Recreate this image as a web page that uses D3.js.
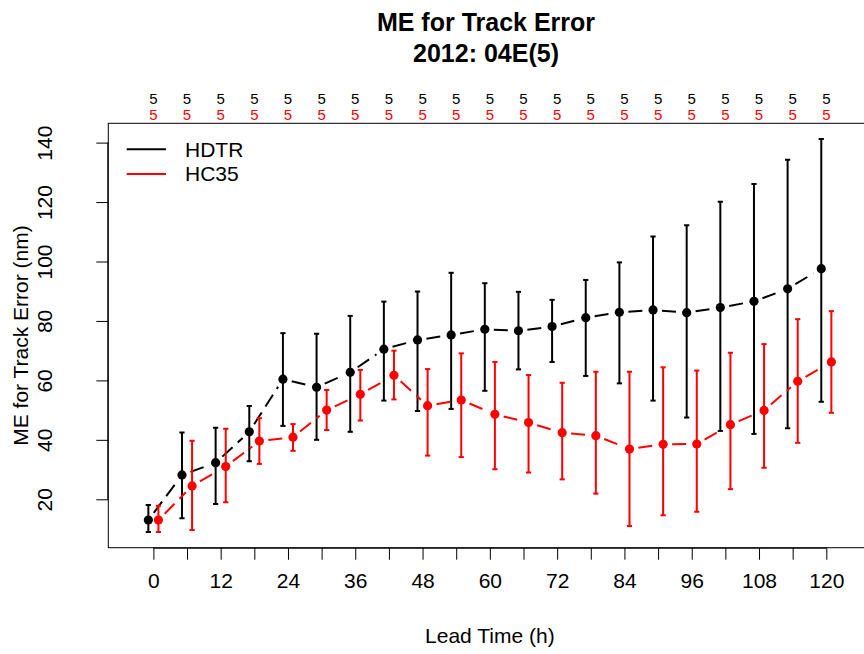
<!DOCTYPE html>
<html>
<head>
<meta charset="utf-8">
<script src="https://cdn.jsdelivr.net/npm/d3@7"></script>
<style>
  html, body { margin: 0; padding: 0; background: #fff; }
  svg { display: block; font-family: "Liberation Sans", Arial, Helvetica, sans-serif; }
</style>
</head>
<body>
<svg id="chart" width="864" height="654"></svg>
<script>
// Lead times (h) and mean track error with error-bar limits for each model
const leadTimes = [0, 6, 12, 18, 24, 30, 36, 42, 48, 54, 60, 66, 72, 78, 84, 90, 96, 102, 108, 114, 120];

const hdtrMean = [13.0, 28.2, 32.3, 42.7, 60.4, 57.7, 62.7, 70.5, 73.6, 75.3, 77.2, 76.7, 78.1, 81.1, 82.9, 83.7, 82.8, 84.5, 86.6, 90.8, 97.6];
const hdtrLow  = [9.0, 13.6, 18.4, 32.8, 44.7, 40.0, 42.7, 53.2, 49.7, 50.4, 56.5, 63.7, 66.2, 61.5, 59.0, 53.2, 47.5, 43.0, 42.0, 43.9, 52.8];
const hdtrHigh = [18.1, 42.5, 44.1, 51.4, 75.9, 75.7, 81.7, 86.5, 89.9, 96.2, 92.7, 89.8, 87.1, 93.8, 99.7, 108.4, 112.2, 120.1, 126.1, 134.2, 141.2];

const hc35Mean = [13.0, 24.5, 31.0, 39.6, 40.9, 50.0, 55.3, 61.7, 51.5, 53.4, 48.6, 45.8, 42.4, 41.4, 36.9, 38.5, 38.6, 45.1, 49.9, 59.7, 66.2];
const hc35Low  = [9.0, 9.7, 19.0, 31.9, 36.3, 43.3, 46.5, 53.6, 34.7, 34.2, 30.1, 29.0, 26.7, 21.9, 11.0, 14.6, 15.8, 23.4, 30.6, 39.0, 49.1];
const hc35High = [17.8, 39.7, 43.7, 47.3, 45.3, 56.8, 63.5, 70.0, 63.8, 69.1, 66.2, 61.8, 59.2, 62.9, 62.9, 64.4, 63.3, 69.3, 72.2, 80.6, 83.3];

// Number of cases per lead time
const hdtrCount = [5, 5, 5, 5, 5, 5, 5, 5, 5, 5, 5, 5, 5, 5, 5, 5, 5, 5, 5, 5, 5];
const hc35Count = [5, 5, 5, 5, 5, 5, 5, 5, 5, 5, 5, 5, 5, 5, 5, 5, 5, 5, 5, 5, 5];

const xTicks = d3.range(0, 121, 6);
const xTickLabels = ["0", "12", "24", "36", "48", "60", "72", "84", "96", "108", "120"];
const yTicks = [20, 40, 60, 80, 100, 120, 140];

const seriesNames = ["HDTR", "HC35"];
const seriesColors = ["#000000", "#ff0000"];

// Layout
const plot = { left: 108.3, right: 871.4, top: 123.3, bottom: 547.7 };
const FONT = 21;

const svg = d3.select("#chart");

const x = d3.scaleLinear().domain([-8.04, 128.04]).range([plot.left, plot.right]);
const y = d3.scaleLinear().domain([3.71, 146.5]).range([plot.bottom, plot.top]);

// Horizontal dodge (in hours) so the two models' bars don't overlap
const dodge = [-0.9, 0.9];

const series = [
  { name: seriesNames[0], color: seriesColors[0], mean: hdtrMean, lo: hdtrLow, hi: hdtrHigh, n: hdtrCount, dx: dodge[0] },
  { name: seriesNames[1], color: seriesColors[1], mean: hc35Mean, lo: hc35Low, hi: hc35High, n: hc35Count, dx: dodge[1] }
];

// Plot frame
svg.append("rect")
  .attr("x", plot.left).attr("y", plot.top)
  .attr("width", plot.right - plot.left).attr("height", plot.bottom - plot.top)
  .attr("fill", "none").attr("stroke", "#000").attr("stroke-width", 1);

// X axis (ticks every 6 h, labels every 12 h)
const xAxis = d3.axisBottom(x)
  .tickValues(xTicks)
  .tickSize(12)
  .tickPadding(13)
  .tickFormat(d => (d % 12 === 0 ? xTickLabels[d / 12] : ""));
const gx = svg.append("g")
  .attr("transform", `translate(0,${plot.bottom})`)
  .call(xAxis);
gx.select(".domain").attr("d", `M${x(0)},0.5H${x(120)}`);
gx.selectAll("text").attr("font-size", FONT).attr("font-family", "Liberation Sans, Arial, sans-serif").attr("fill", "#000");
gx.selectAll("line").attr("stroke", "#000");

// Y axis with labels written parallel to the axis
const yAxis = d3.axisLeft(y).tickValues(yTicks).tickSize(12).tickFormat(d3.format("d"));
const gy = svg.append("g")
  .attr("transform", `translate(${plot.left},0)`)
  .call(yAxis);
gy.select(".domain").attr("d", `M-0.5,${y(20)}V${y(140)}`);
gy.selectAll("line").attr("stroke", "#000");
gy.selectAll("text")
  .attr("font-size", FONT)
  .attr("font-family", "Liberation Sans, Arial, sans-serif")
  .attr("fill", "#000")
  .attr("text-anchor", "middle")
  .attr("x", null).attr("dy", null)
  .attr("transform", "translate(-56,0) rotate(-90)");

// Axis titles
svg.append("text")
  .attr("x", (plot.left + plot.right) / 2).attr("y", 643)
  .attr("text-anchor", "middle").attr("font-size", FONT)
  .text("Lead Time (h)");

svg.append("text")
  .attr("transform", `translate(28,${(plot.top + plot.bottom) / 2}) rotate(-90)`)
  .attr("text-anchor", "middle").attr("font-size", FONT)
  .text("ME for Track Error (nm)");

// Main title
const title = svg.append("text").attr("text-anchor", "middle").attr("font-weight", "bold").attr("font-size", 25);
title.append("tspan").attr("x", 486).attr("y", 31).text("ME for Track Error");
title.append("tspan").attr("x", 486).attr("y", 62).text("2012: 04E(5)");

// Case counts along the top margin
series.forEach((s, si) => {
  svg.append("g").selectAll("text")
    .data(leadTimes)
    .join("text")
    .attr("x", d => x(d))
    .attr("y", 104 + si * 16)
    .attr("text-anchor", "middle")
    .attr("font-size", 15)
    .attr("fill", s.color)
    .text((d, i) => s.n[i]);
});

svg.append("clipPath").attr("id", "plotClip")
  .append("rect").attr("x", plot.left).attr("y", plot.top)
  .attr("width", plot.right - plot.left).attr("height", plot.bottom - plot.top);

const marks = svg.append("g").attr("clip-path", "url(#plotClip)");

const GAP = 9;      // blank space left around each point by the connecting line
const CAP = 2.6;    // half-width of error-bar caps
const R = 4.6;      // point radius

series.forEach(s => {
  const g = marks.append("g");
  const pts = leadTimes.map((t, i) => ({ px: x(t + s.dx), py: y(s.mean[i]), i }));

  // Dashed connectors, interrupted around each point
  for (let k = 0; k < pts.length - 1; k++) {
    const a = pts[k], b = pts[k + 1];
    const dx = b.px - a.px, dy = b.py - a.py;
    const len = Math.hypot(dx, dy);
    if (len <= 2 * GAP) continue;
    const ux = dx / len, uy = dy / len;
    g.append("line")
      .attr("x1", a.px + ux * GAP).attr("y1", a.py + uy * GAP)
      .attr("x2", b.px - ux * GAP).attr("y2", b.py - uy * GAP)
      .attr("stroke", s.color).attr("stroke-width", 2)
      .attr("stroke-dasharray", "14,7");
  }

  // Error bars
  const eb = g.append("g").selectAll("g").data(pts).join("g");
  eb.append("line")
    .attr("x1", d => d.px).attr("x2", d => d.px)
    .attr("y1", d => y(s.lo[d.i])).attr("y2", d => y(s.hi[d.i]))
    .attr("stroke", s.color).attr("stroke-width", 2);
  eb.append("line")
    .attr("x1", d => d.px - CAP).attr("x2", d => d.px + CAP)
    .attr("y1", d => y(s.hi[d.i])).attr("y2", d => y(s.hi[d.i]))
    .attr("stroke", s.color).attr("stroke-width", 2);
  eb.append("line")
    .attr("x1", d => d.px - CAP).attr("x2", d => d.px + CAP)
    .attr("y1", d => y(s.lo[d.i])).attr("y2", d => y(s.lo[d.i]))
    .attr("stroke", s.color).attr("stroke-width", 2);

  // Points
  g.append("g").selectAll("circle").data(pts).join("circle")
    .attr("cx", d => d.px).attr("cy", d => d.py).attr("r", R)
    .attr("fill", s.color);
});

// Legend
const legend = svg.append("g");
series.forEach((s, i) => {
  const ly = 149.3 + i * 24.7;
  legend.append("line")
    .attr("x1", 126.7).attr("x2", 166).attr("y1", ly).attr("y2", ly)
    .attr("stroke", s.color).attr("stroke-width", 2);
  legend.append("text")
    .attr("x", 185).attr("y", ly).attr("dy", "0.35em")
    .attr("font-size", FONT).attr("fill", "#000")
    .text(s.name);
});
</script>
</body>
</html>
